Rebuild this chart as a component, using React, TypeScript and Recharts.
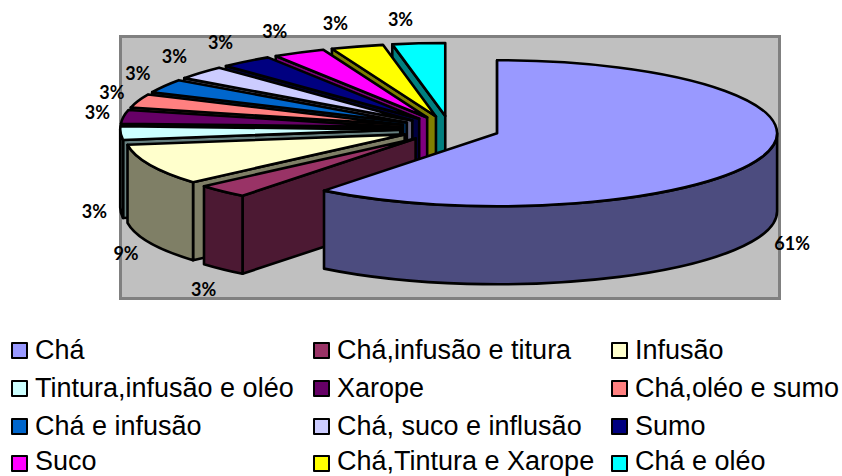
import React from "react";
import { PieChart, Pie, Legend } from "recharts";

const categories = [
  "Chá", "Chá,infusão e titura", "Infusão", "Tintura,infusão e oléo", "Xarope", "Chá,oléo e sumo",
  "Chá e infusão", "Chá, suco e influsão", "Sumo", "Suco", "Chá,Tintura e Xarope", "Chá e oléo",
];
const counts = [20, 1, 3, 1, 1, 1, 1, 1, 1, 1, 1, 1];
const topColors = ["#9999FF", "#993366", "#FFFFCC", "#CCFFFF", "#660066", "#FF8080", "#0066CC", "#CCCCFF", "#000080", "#FF00FF", "#FFFF00", "#00FFFF"];
const wallColors = ["#4C4C7F", "#4C1933", "#7F7F66", "#667F7F", "#330033", "#7F4040", "#003366", "#66667F", "#000040", "#7F007F", "#7F7F00", "#007F7F"];

// Painted back to front, so the slices are handed over last-first and run counter-clockwise.
const rows = categories
  .map((name, i) => ({ name, value: counts[i], fill: topColors[i], wall: wallColors[i] }))
  .reverse();

const SQUASH = 73 / 280;
const DEPTH = 78;
const EXPLODE = 0.178;
const rad = (d: number) => (d * Math.PI) / 180;

function slice(props: any) {
  const { cx, cy, outerRadius: rx, startAngle, endAngle, fill, payload } = props;
  const ry = rx * SQUASH;
  const lo = Math.min(startAngle, endAngle);
  const hi = Math.max(startAngle, endAngle);
  const t0 = 90 - hi + 360;
  const t1 = 90 - lo + 360;
  const mid = (t0 + t1) / 2;
  const ax = cx + EXPLODE * rx * Math.sin(rad(mid));
  const ay = cy - EXPLODE * ry * Math.cos(rad(mid));
  const pt = (t: number, dy = 0) => `${ax + rx * Math.sin(rad(t))} ${ay - ry * Math.cos(rad(t)) + dy}`;
  const arc = (a: number, b: number, sweep: number) =>
    `A ${rx} ${ry} 0 ${Math.abs(b - a) > 180 ? 1 : 0} ${sweep} `;
  const wall = payload?.wall ?? props.wall;
  const stroke = { stroke: "#000", strokeWidth: 2.6, strokeLinejoin: "round" as const };

  const faces: React.ReactNode[] = [];
  // radial cut face seen from the front
  const cut = Math.sin(rad(t0)) < -1e-6 ? t0 : Math.sin(rad(t1)) > 1e-6 ? t1 : null;
  if (cut !== null) {
    faces.push(
      <path key="cut" fill={wall} {...stroke}
        d={`M ${ax} ${ay} L ${pt(cut)} L ${pt(cut, DEPTH)} L ${ax} ${ay + DEPTH} Z`} />
    );
  }
  const w0 = Math.max(t0, 90);
  const w1 = Math.min(t1, 270);
  if (w1 > w0) {
    faces.push(
      <path key="wall" fill={wall} {...stroke}
        d={`M ${pt(w0)} ${arc(w0, w1, 1)}${pt(w1)} L ${pt(w1, DEPTH)} ${arc(w0, w1, 0)}${pt(w0, DEPTH)} Z`} />
    );
  }
  return (
    <g>
      {faces}
      <path fill={fill} {...stroke}
        d={`M ${ax} ${ay} L ${pt(t0)} ${arc(t0, t1, 1)}${pt(t1)} Z`} />
    </g>
  );
}

function percentLabel(props: any) {
  const { cx, cy, midAngle, percent } = props;
  const t = 90 - midAngle;
  const s = Math.sin(rad(t));
  const c = Math.cos(rad(t));
  const front = c < 0;
  const x = front
    ? cx + (s > 0 ? 362 : 354) * s - (s > 0 ? 0 : 2)
    : cx + 354 * s - 14 * c * c - 2;
  const y = front ? cy - 114 * c + DEPTH - 1 : cy - 108 * c - 2;
  return (
    <text x={x} y={y} textAnchor="middle" dominantBaseline="central"
      fontFamily="Lato" fontWeight={700} fontSize={18} fill="#000">
      {`${Math.round(percent * 100)}%`}
    </text>
  );
}

const legendX = [11, 313, 611];
const legendY = [350, 388, 426, 463];
const legendTextY = [350, 388, 426, 461];

function legendContent() {
  return (
    <div style={{ position: "relative", width: 842, height: 476, fontFamily: "Liberation Sans", fontSize: 27, color: "#000" }}>
      {categories.map((name, i) => {
        const x = legendX[i % 3];
        const row = Math.floor(i / 3);
        return (
          <div key={name}>
            <div style={{ position: "absolute", left: x, top: legendY[row] - 8, width: 13, height: 13, background: topColors[i], border: "2px solid #000", borderRadius: 1 }} />
            <div style={{ position: "absolute", left: x + 24, top: legendTextY[row] - 12, lineHeight: "24px", height: 24, whiteSpace: "nowrap" }}>{name}</div>
          </div>
        );
      })}
    </div>
  );
}

export default function App() {
  return (
    <div style={{ position: "absolute", left: 0, top: 0, width: 842, height: 476, background: "#fff", overflow: "hidden" }}>
      <PieChart width={842} height={476} margin={{ top: 0, right: 0, bottom: 0, left: 0 }}>
        <rect x={120.5} y={36.5} width={659} height={262} fill="#C0C0C0" stroke="#808080" strokeWidth={3} />
        <Pie
          data={rows}
          dataKey="value"
          nameKey="name"
          cx={450}
          cy={129}
          innerRadius={0}
          outerRadius={280}
          startAngle={90}
          endAngle={450}
          paddingAngle={0}
          stroke="none"
          isAnimationActive={false}
          shape={slice}
          label={percentLabel}
          labelLine={false}
        />
        <Legend content={legendContent} wrapperStyle={{ position: "absolute", left: 0, top: 0, width: 842, height: 476 }} />
      </PieChart>
    </div>
  );
}
